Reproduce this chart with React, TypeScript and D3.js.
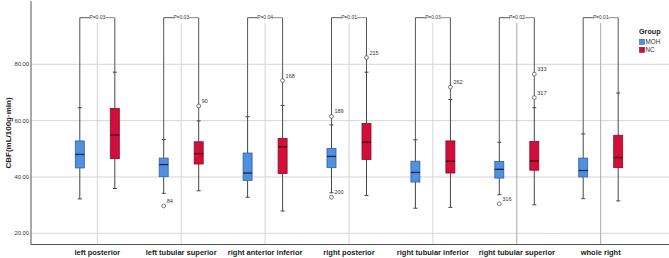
import React from "react";
import * as d3 from "d3";

const categories = [
  "left posterior",
  "left tubular superior",
  "right anterior inferior",
  "right posterior",
  "right tubular inferior",
  "right tubular superior",
  "whole right",
];
const groups = ["MOH", "NC"];

// MOH box statistics
const mohLow = [32.2, 34.2, 32.8, 34.4, 28.9, 33.7, 32.3];
const mohQ1 = [43.2, 40.1, 38.8, 43.3, 38.2, 39.6, 40.0];
const mohMed = [48.0, 44.4, 41.4, 47.3, 41.6, 42.7, 42.3];
const mohQ3 = [52.8, 46.7, 48.5, 50.1, 45.6, 45.5, 46.7];
const mohHigh = [64.6, 53.3, 61.4, 58.5, 53.2, 52.3, 55.3];

// NC box statistics
const ncLow = [35.9, 35.1, 27.9, 33.4, 29.2, 30.1, 31.5];
const ncQ1 = [46.5, 44.6, 41.2, 46.2, 41.4, 42.4, 43.3];
const ncMed = [54.9, 48.3, 50.7, 52.3, 45.6, 45.7, 46.9];
const ncQ3 = [64.3, 52.5, 53.7, 59.0, 52.8, 52.6, 54.8];
const ncHigh = [77.2, 59.9, 65.4, 77.2, 67.5, 64.6, 69.8];

// outliers: [categoryIndex, value, label]
const mohOutliers: [number, number, string][] = [
  [1, 29.7, "84"],
  [3, 61.5, "189"],
  [3, 32.8, "200"],
  [5, 30.5, "316"],
];
const ncOutliers: [number, number, string][] = [
  [1, 65.2, "90"],
  [2, 74.2, "168"],
  [3, 82.4, "215"],
  [4, 71.9, "262"],
  [5, 76.5, "333"],
  [5, 68.2, "317"],
];

const pValues = ["P=0.03", "P=0.03", "P=0.04", "P=0.01", "P=0.03", "P=0.02", "P=0.01"];
const yTicks = [20, 40, 60, 80];

const W = 669;
const H = 258;
const FONT = "'Liberation Sans', Arial, sans-serif";

const colors: Record<string, { fill: string; stroke: string; median: string }> = {
  MOH: { fill: "#4f91de", stroke: "#2f5f9e", median: "#14254a" },
  NC: { fill: "#d0103a", stroke: "#8a0a26", median: "#4a0412" },
};

export default function App() {
  const x = d3.scaleBand<string>().domain(categories).range([55.35, 642.65]);
  const xg = d3.scaleBand<string>().domain(groups).range([-35, 35]);
  const y = d3.scaleLinear().domain([20, 80]).range([233.3, 64.3]);

  const axisLeft = 31;
  const axisBottom = 244.5;
  const bracketY = 17.7;
  const boxW = 9;
  const capW = 4;

  const stats: Record<string, number[][]> = {
    MOH: [mohLow, mohQ1, mohMed, mohQ3, mohHigh],
    NC: [ncLow, ncQ1, ncMed, ncQ3, ncHigh],
  };
  const outliers: Record<string, [number, number, string][]> = { MOH: mohOutliers, NC: ncOutliers };

  const cx = (c: string) => (x(c) as number) + x.bandwidth() / 2;
  const gx = (c: string, g: string) => cx(c) + (xg(g) as number) + xg.bandwidth() / 2;

  return (
    <div style={{ position: "fixed", left: 0, top: 0, width: W, height: H, background: "#fff" }}>
      <svg width={W} height={H} style={{ display: "block" }} fontFamily={FONT}>
        <rect width={W} height={H} fill="#fff" />
        {/* gridlines */}
        {yTicks.map((t) => (
          <line key={t} x1={axisLeft} x2={W} y1={y(t)} y2={y(t)} stroke="#d6d6d6" strokeWidth={1} />
        ))}
        {/* category center lines */}
        {categories.map((c, i) => (
          <line
            key={c}
            x1={cx(c)}
            x2={cx(c)}
            y1={23}
            y2={axisBottom}
            stroke={i >= 5 ? "#a9a9a9" : "#d4d4d4"}
            strokeWidth={1}
          />
        ))}
        {/* axes */}
        <line x1={axisLeft} x2={axisLeft} y1={1} y2={axisBottom} stroke="#555" strokeWidth={1} />
        <line x1={axisLeft} x2={W} y1={axisBottom} y2={axisBottom} stroke="#555" strokeWidth={1} />
        {yTicks.map((t) => (
          <text key={t} x={29} y={y(t)} dy="0.35em" textAnchor="end" fontSize={5.8} fill="#333">
            {t.toFixed(2)}
          </text>
        ))}
        <text
          transform={`translate(8,133) rotate(-90)`}
          textAnchor="middle"
          dy="0.35em"
          fontSize={8}
          fontWeight="bold"
          fill="#222"
        >
          CBF(mL/100g·min)
        </text>
        {categories.map((c) => (
          <text key={c} x={cx(c)} y={254.5} textAnchor="middle" fontSize={7.5} fontWeight="bold" fill="#222">
            {c}
          </text>
        ))}
        {/* brackets */}
        {categories.map((c, i) => {
          const xl = gx(c, "MOH");
          const xr = gx(c, "NC");
          const m = cx(c);
          const half = 8;
          return (
            <g key={c}>
              <line x1={xl} x2={xl} y1={bracketY} y2={y(mohHigh[i])} stroke="#555" strokeWidth={1} />
              <line x1={xr} x2={xr} y1={bracketY} y2={y(ncHigh[i])} stroke="#555" strokeWidth={1} />
              <line x1={xl} x2={m - half} y1={bracketY} y2={bracketY} stroke="#555" strokeWidth={1} />
              <line x1={m + half} x2={xr} y1={bracketY} y2={bracketY} stroke="#888" strokeWidth={1} />
              <text x={m} y={bracketY} dy="0.35em" textAnchor="middle" fontSize={5} fill="#333">
                <tspan fontStyle="italic">P</tspan>
                {pValues[i].slice(1)}
              </text>
            </g>
          );
        })}
        {/* boxes */}
        {groups.map((g) =>
          categories.map((c, i) => {
            const [lo, q1, md, q3, hi] = stats[g].map((a) => a[i]);
            const px = gx(c, g);
            return (
              <g key={g + c}>
                <line x1={px} x2={px} y1={y(hi)} y2={y(q3)} stroke="#444" strokeWidth={1} />
                <line x1={px} x2={px} y1={y(q1)} y2={y(lo)} stroke="#444" strokeWidth={1} />
                <line x1={px - capW / 2} x2={px + capW / 2} y1={y(hi)} y2={y(hi)} stroke="#444" strokeWidth={1} />
                <line x1={px - capW / 2} x2={px + capW / 2} y1={y(lo)} y2={y(lo)} stroke="#444" strokeWidth={1} />
                <rect
                  x={px - boxW / 2}
                  y={y(q3)}
                  width={boxW}
                  height={y(q1) - y(q3)}
                  fill={colors[g].fill}
                  stroke={colors[g].stroke}
                  strokeWidth={0.8}
                />
                <line
                  x1={px - boxW / 2}
                  x2={px + boxW / 2}
                  y1={y(md)}
                  y2={y(md)}
                  stroke={colors[g].median}
                  strokeWidth={1.3}
                />
              </g>
            );
          })
        )}
        {/* outliers */}
        {groups.map((g) =>
          outliers[g].map(([ci, v, lab]) => {
            const px = gx(categories[ci], g);
            return (
              <g key={g + ci + lab}>
                <circle cx={px} cy={y(v)} r={1.9} fill="#fff" stroke="#555" strokeWidth={0.8} />
                <text x={px + 3} y={y(v) - 3} fontSize={5.5} fill="#333">
                  {lab}
                </text>
              </g>
            );
          })
        )}
        {/* legend */}
        <text x={639} y={33.5} fontSize={7.2} fontWeight="bold" fill="#222">
          Group
        </text>
        {groups.map((g, i) => (
          <g key={g}>
            <rect
              x={639.5}
              y={39.3 + i * 8}
              width={5}
              height={5}
              fill={colors[g].fill}
              stroke={colors[g].stroke}
              strokeWidth={0.6}
            />
            <text x={645.5} y={44.3 + i * 8} fontSize={6.3} fill="#333">
              {g}
            </text>
          </g>
        ))}
      </svg>
    </div>
  );
}
